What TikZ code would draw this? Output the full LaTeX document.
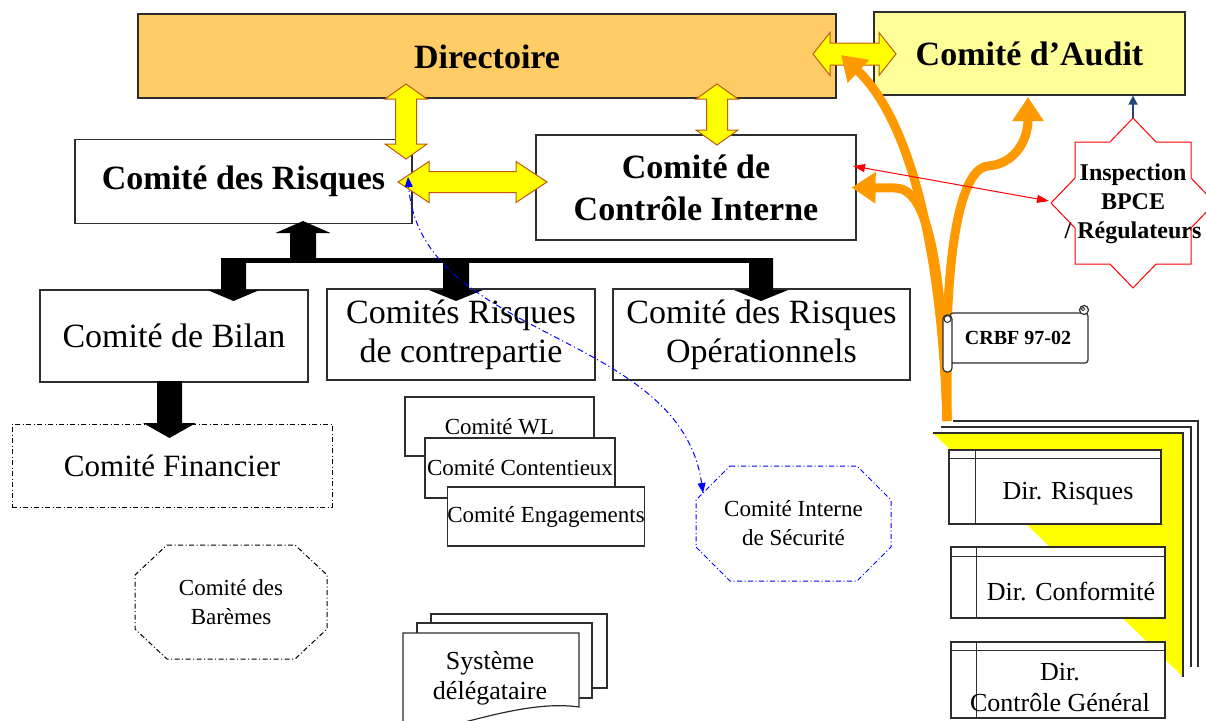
\documentclass[tikz,border=0pt]{standalone}
\usepackage{fontspec}
\setmainfont{Liberation Serif}
\usetikzlibrary{arrows.meta}
\definecolor{dirorange}{RGB}{255,204,102}
\definecolor{audityel}{RGB}{255,255,153}
\definecolor{arrowyel}{RGB}{255,255,0}
\definecolor{arrowbrd}{RGB}{190,90,20}
\definecolor{orangeA}{RGB}{255,153,0}
\definecolor{navyA}{RGB}{31,73,125}
\definecolor{boxgray}{RGB}{45,45,45}
\newcommand\YArrowH[6]{\path[yarrow] (#1,#3) -- ({#1+#6},{#3-#5}) -- ({#1+#6},{#3-#4}) -- ({#2-#6},{#3-#4}) -- ({#2-#6},{#3-#5}) -- (#2,#3) -- ({#2-#6},{#3+#5}) -- ({#2-#6},{#3+#4}) -- ({#1+#6},{#3+#4}) -- ({#1+#6},{#3+#5}) -- cycle;}
\newcommand\YArrowV[6]{\path[yarrow] (#1,#2) -- ({#1+#5},{#2+#6}) -- ({#1+#4},{#2+#6}) -- ({#1+#4},{#3-#6}) -- ({#1+#5},{#3-#6}) -- (#1,#3) -- ({#1-#5},{#3-#6}) -- ({#1-#4},{#3-#6}) -- ({#1-#4},{#2+#6}) -- ({#1-#5},{#2+#6}) -- cycle;}
\newcommand\BlkArrowV[6]{\fill[black] ({#1-#5},#2) -- ({#1+#5},#2) -- ({#1+#5},#3) -- ({#1+#6},#3) -- (#1,#4) -- ({#1-#6},#3) -- ({#1-#5},#3) -- cycle;}
\begin{document}
\begin{tikzpicture}[x=1pt,y=-1pt,
  box/.style={draw=boxgray,line width=1.2pt,fill=white,inner sep=0pt,align=center},
  fb/.style={font=\bfseries\fontsize{34}{42}\selectfont},
  fr/.style={font=\fontsize{34}{39}\selectfont},
  fsm/.style={font=\fontsize{23}{29}\selectfont},
  fdir/.style={font=\fontsize{26}{31}\selectfont},
  txt/.style={inner sep=0pt,align=center},
  dashdotk/.style={draw=black,line width=1pt,dash pattern=on 5pt off 2.5pt on 1pt off 2.5pt},
  dashdotb/.style={draw=blue,line width=1pt,dash pattern=on 5pt off 2.5pt on 1pt off 2.5pt},
  yarrow/.style={fill=arrowyel,draw=arrowbrd,line width=1pt,line join=miter},
  oarrow/.style={draw=orangeA,line width=9pt,-{Triangle[width=30pt,length=24pt]}},
  scrollst/.style={draw=boxgray,line width=1.2pt,fill=white},
  lineK/.style={draw=boxgray,line width=1.2pt}
]
\useasboundingbox (0,0) rectangle (1206,720);

% top level
\node[box,fill=dirorange,minimum width=698pt,minimum height=84pt] (dir) at (487,56) {};
\node[txt,fb] (dirt) at (487,57) {Directoire};
\node[box,fill=audityel,minimum width=311pt,minimum height=83pt,fb] (audit) at (1029.5,53.5) {Comité d’Audit};

% second level
\node[box,minimum width=337pt,minimum height=84pt,fb] (risk) at (243.5,181.5) {Comité des Risques};
\node[box,minimum width=320pt,minimum height=105pt,fb] (ctrl) at (696,187.5) {Comité de\\Contrôle Interne};

% third level
\node[box,minimum width=268pt,minimum height=92pt,fr] (bilan) at (174,336) {Comité de Bilan};
\node[box,minimum width=268pt,minimum height=91pt,fr] (cpt) at (461,334.5) {Comités Risques\\de contrepartie};
\node[box,minimum width=297pt,minimum height=91pt,fr] (ops) at (761.5,334.5) {Comité des Risques\\Opérationnels};

% financier
\node[box,dashdotk,minimum width=320pt,minimum height=83pt,font=\fontsize{31}{36}\selectfont] (fin) at (172,465.5) {Comité Financier};

% bareme octagon
\node[txt,fsm,minimum width=192pt,minimum height=114pt] (bar) at (231,602) {Comité des\\Barèmes};
\begin{scope}[shift={(bar.center)}]
\draw[dashdotk] (-64,-57) -- (64,-57) -- (96,-27) -- (96,27) -- (64,57) -- (-64,57) -- (-96,27) -- (-96,-27) -- cycle;
\end{scope}

% CIS octagon
\node[txt,fsm,minimum width=195pt,minimum height=115pt] (cis) at (793.5,523.5) {Comité Interne\\de Sécurité};
\begin{scope}[shift={(cis.center)}]
\draw[dashdotb] (-63.5,-57.5) -- (63.5,-57.5) -- (97.5,-23.5) -- (97.5,23.5) -- (63.5,57.5) -- (-63.5,57.5) -- (-97.5,23.5) -- (-97.5,-23.5) -- cycle;
\end{scope}

% stacked committees
\node[box,minimum width=189pt,minimum height=59pt,fsm,anchor=center] (wl1) at (499.5,426.5) {Comité WL};
\node[box,minimum width=190pt,minimum height=60pt,fsm] (wl2) at (520,468) {Comité Contentieux};
\node[box,minimum width=194pt,minimum height=59pt,fsm] (wl3) at (546,516.5) {Comité Engagements};

% systeme delegataire
\path[scrollst] (431,614) rectangle (607,688);
\path[scrollst] (417,623) rectangle (592,698);
\path[scrollst] (403,745) -- (403,633) -- (579,633) -- (579,707) .. controls (530,700) and (470,722) .. (403,738) -- cycle;
\node[txt,font=\fontsize{26}{30}\selectfont] (sys) at (490,678) {Système\\délégataire};

% directions stack
\fill[arrowyel] (933,433) -- (1183,433) -- (1183,677) -- cycle;
\draw[lineK] (933,433) -- (1183,433) -- (1183,677);
\draw[lineK] (941,427) -- (1191,427) -- (1191,667);
\draw[lineK] (953,421) -- (1198,421) -- (1198,667);

\node[box,minimum width=212pt,minimum height=74pt] (dr1) at (1055,487) {};
\draw[lineK] ([yshift=-9pt]dr1.north west) -- ([yshift=-9pt]dr1.north east);
\draw[lineK] ([xshift=27pt]dr1.north west) -- ([xshift=27pt]dr1.south west);
\node[txt,fdir] (dr1t) at (1068,494) {Dir. Risques};

\node[box,minimum width=214pt,minimum height=71pt] (dr2) at (1058,582.5) {};
\draw[lineK] ([yshift=-10pt]dr2.north west) -- ([yshift=-10pt]dr2.north east);
\draw[lineK] ([xshift=26pt]dr2.north west) -- ([xshift=26pt]dr2.south west);
\node[txt,fdir] (dr2t) at (1071,592) {Dir. Conformité};

\node[box,minimum width=214pt,minimum height=76pt] (dr3) at (1058,680) {};
\draw[lineK] ([yshift=-9pt]dr3.north west) -- ([yshift=-9pt]dr3.north east);
\draw[lineK] ([xshift=26pt]dr3.north west) -- ([xshift=26pt]dr3.south west);
\node[txt,fdir] (dr3t) at (1060,688) {Dir.\\Contrôle Général};

% inspection star
\node[txt,font=\bfseries\fontsize{24}{29}\selectfont] (insp) at (1133,204) {Inspection\\BPCE\\/ Régulateurs};
\begin{scope}[shift={(1133,203)}]
\draw[red,line width=1pt,fill=none] (0,-85) -- (23,-61) -- (58,-61) -- (58,-25) -- (82,0) -- (58,25) -- (58,61) -- (23,61) -- (0,85) -- (-23,61) -- (-58,61) -- (-58,25) -- (-82,0) -- (-58,-25) -- (-58,-61) -- (-23,-61) -- cycle;
\end{scope}
\coordinate (insptop) at (1133,118);
\coordinate (inspW) at (1049,201);
\draw[navyA,line width=1.5pt,-{Triangle[width=9pt,length=9pt]}] (insptop) -- (insptop |- audit.south);

% black block arrows
\fill[black] (221,258) rectangle (773,263);
\BlkArrowV{303}{262}{233}{221}{13}{27.5}
\BlkArrowV{233.5}{258}{290}{301}{12.5}{26}
\BlkArrowV{456}{258}{290}{301}{13}{27}
\BlkArrowV{761}{258}{290}{301}{12}{27}
\BlkArrowV{169.5}{381}{423}{438}{12.5}{26.5}

% yellow block arrows
\YArrowH{813}{896}{54}{11}{21.5}{17}
\YArrowV{406}{84}{159}{10.5}{21}{15}
\YArrowV{717}{84}{145}{10.5}{21}{15}
\YArrowH{398}{547}{182}{10.5}{20.5}{31}

% orange arrows
\coordinate (ostart) at (947,421);
\draw[oarrow] (ostart) .. controls (942,250) and (910,120) .. (841,55);
\draw[oarrow] (ostart) .. controls (942,250) and (925,188) .. (895,188) -- ([xshift=-5pt]ctrl.east);
\draw[oarrow] (ostart) -- (947,330) .. controls (950,225) and (965,168) .. (988,166) .. controls (1015,164) and (1028,140) .. (1028,97);

% CRBF scroll
\path[scrollst,rounded corners=3pt] (950,313) rectangle (1088,363);
\path[scrollst,rounded corners=4pt] (943,315) rectangle (952,372);
\draw[boxgray,line width=1pt] (947.5,319) circle (3.5pt);
\path[scrollst] (1084,310) circle (4.5pt);
\draw[boxgray,line width=0.8pt] (1083,309) circle (1.8pt);
\node[txt,font=\bfseries\fontsize{20}{24}\selectfont] (crbf) at (1018,338) {CRBF 97-02};

% red connector
\coordinate (redL) at (853,166);
\draw[red,line width=1pt,{Triangle[width=8pt,length=12pt]}-{Triangle[width=8pt,length=12pt]}] (redL) -- (inspW);

% blue connector
\coordinate (cisTL) at (703,493);
\coordinate (riskE) at (408,177);
\draw[blue,line width=1pt,dash pattern=on 6pt off 3pt on 1.2pt off 3pt,{Triangle[width=8pt,length=10pt]}-{Triangle[width=8pt,length=10pt]}] (cisTL) .. controls (680,330) and (420,340) .. (riskE);
\end{tikzpicture}
\end{document}
